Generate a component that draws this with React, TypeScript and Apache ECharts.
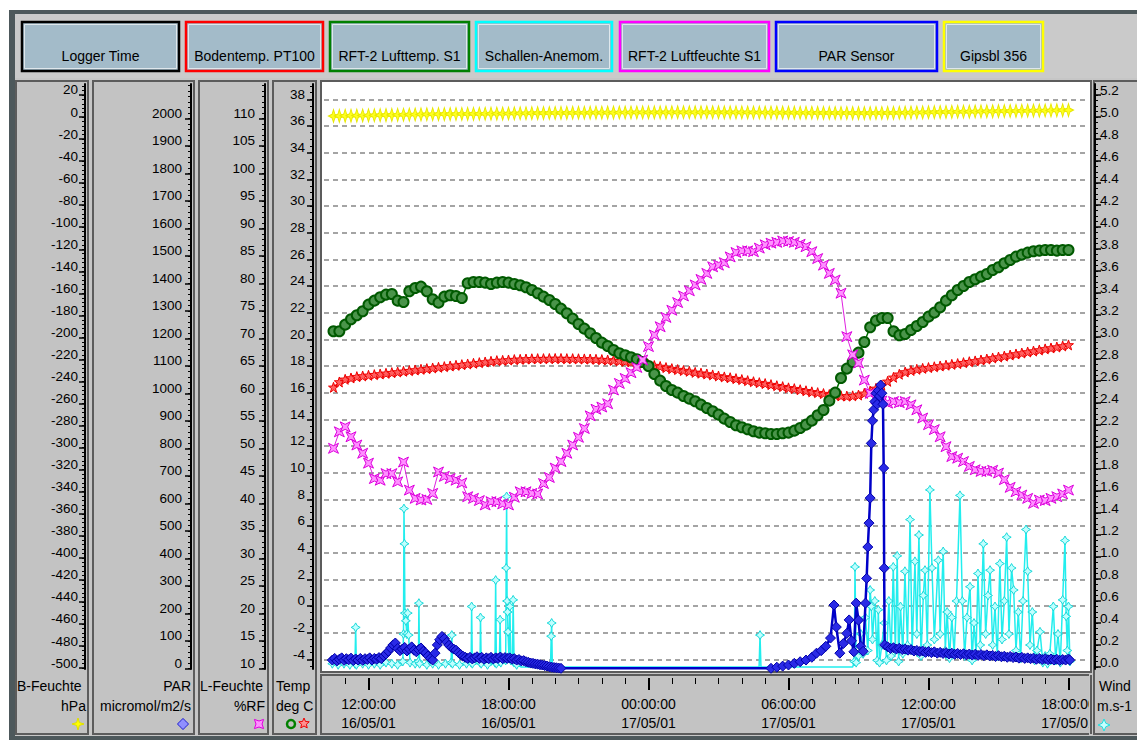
import React, { useEffect, useRef } from 'react';
import * as echarts from 'echarts';

// ---------------- DATA ----------------
// smooth channels logged every 15 min, first sample 10:30 on 16/05/01 (hours since 16/05/01 00:00)
const SAMPLE_START = 10.5;
const SAMPLE_STEP = 0.25;

// Bodentemp. PT100 (deg C)
const bodenTemp = [
  16.4, 16.8,
  17.0, 17.1, 17.2, 17.25,
  17.3, 17.35, 17.4, 17.45,
  17.5, 17.55, 17.6, 17.65,
  17.7, 17.75, 17.8, 17.85,
  17.9, 17.95, 18.0, 18.05,
  18.1, 18.15, 18.2, 18.25,
  18.3, 18.35, 18.4, 18.42,
  18.45, 18.48, 18.5, 18.52,
  18.54, 18.55, 18.55, 18.56,
  18.56, 18.56, 18.55, 18.55,
  18.54, 18.53, 18.52, 18.5,
  18.48, 18.45, 18.42, 18.38,
  18.35, 18.3, 18.25, 18.18,
  18.1, 18.03, 17.96, 17.88,
  17.8, 17.73, 17.66, 17.6,
  17.52, 17.46, 17.4, 17.33,
  17.25, 17.18, 17.12, 17.05,
  16.98, 16.9, 16.82, 16.75,
  16.68, 16.6, 16.52, 16.45,
  16.36, 16.3, 16.22, 16.14,
  16.06, 16.0, 15.93, 15.86,
  15.8, 15.76, 15.74, 15.76,
  15.82, 15.95, 16.12, 16.32,
  16.55, 16.85, 17.15, 17.38,
  17.55, 17.66, 17.75, 17.82,
  17.88, 17.94, 18.0, 18.06,
  18.12, 18.18, 18.25, 18.32,
  18.38, 18.45, 18.52, 18.6,
  18.67, 18.74, 18.82, 18.9,
  18.97, 19.05, 19.12, 19.2,
  19.28, 19.35, 19.42, 19.5,
  19.58,
];

// RFT-2 Lufttemp. S1 (deg C)
const luftTemp = [
  20.6, 20.6,
  21.1, 21.5, 21.8, 22.1,
  22.6, 22.9, 23.15, 23.35,
  23.4, 22.9, 22.8, 23.6,
  23.85, 23.95, 23.6, 23.0,
  22.75, 23.2, 23.3, 23.25,
  23.1, 24.2, 24.3, 24.3,
  24.25, 24.15, 24.25, 24.3,
  24.25, 24.15, 24.05, 23.9,
  23.7, 23.45, 23.2, 22.95,
  22.65, 22.3, 21.95, 21.55,
  21.15, 20.8, 20.45, 20.1,
  19.75, 19.5, 19.2, 18.95,
  18.8, 18.65, 18.5, 18.3,
  18.0, 17.4, 16.9, 16.5,
  16.2, 16.0, 15.75, 15.55,
  15.35, 15.1, 14.85, 14.6,
  14.35, 14.05, 13.8, 13.55,
  13.4, 13.25, 13.1, 13.0,
  12.95, 12.9, 12.9, 12.95,
  13.0, 13.15, 13.35, 13.6,
  13.9, 14.3, 14.7, 15.4,
  16.0, 17.1, 17.8, 18.3,
  19.0, 19.8, 20.9, 21.4,
  21.6, 21.6, 20.6, 20.3,
  20.4, 20.7, 21.0, 21.3,
  21.7, 22.0, 22.4, 22.9,
  23.3, 23.7, 24.0, 24.3,
  24.5, 24.7, 24.9, 25.2,
  25.4, 25.7, 25.95, 26.2,
  26.35, 26.5, 26.6, 26.65,
  26.7, 26.7, 26.65, 26.7,
  26.7,
];

// RFT-2 Luftfeuchte S1 (%RF)
const luftFeuchte = [
  50.0, 53.0, 53.9, 52.1, 50.6, 49.1, 47.3, 44.5, 44.2, 45.4,
  45.4, 43.9, 47.5, 42.4, 40.9, 40.6, 40.7, 41.8, 45.7, 44.9,
  44.5, 44.2, 43.7, 41.2, 40.9, 40.5, 39.7, 40.3, 40.3, 39.9,
  39.7, 41.1, 42.1, 42.1, 41.8, 41.7, 43.6, 44.7, 46.4, 47.6,
  49.1, 50.6, 52.0, 53.6, 55.9, 57.1, 57.5, 58.1, 60.6, 61.8,
  62.7, 63.75, 64.7, 66.05, 68.5, 70.6, 72.1, 73.8, 75.1, 76.5,
  77.7, 78.65, 79.7, 80.7, 81.8, 83.0, 83.3, 83.75, 84.8, 85.6,
  85.9, 85.9, 85.75, 86.4, 87.0, 87.3, 87.45, 87.7, 87.6, 87.45,
  87.1, 86.65, 85.75, 84.5, 83.3, 81.8, 80.6, 78.2, 70.3, 67.0,
  65.5, 62.4, 60.0, 59.0, 58.6, 58.2, 58.5, 58.3, 58.5, 57.9,
  57.0, 55.5, 54.3, 53.4, 52.1, 50.3, 48.5, 48.2, 47.6, 46.7,
  46.1, 45.8, 45.8, 46.0, 45.5, 44.3, 42.9, 42.1, 41.5, 40.9,
  40.0, 40.6, 40.5, 40.9, 41.2, 41.7, 42.4,
];

// Gipsbl 356 (B-Feuchte, hPa)
const gipsbl = [
  0.9, 1.0,
  1.1, 1.2, 1.3, 1.4,
  1.5, 1.6, 1.7, 1.8,
  1.9, 2.0, 2.1, 2.2,
  2.3, 2.4, 2.5, 2.55,
  2.6, 2.65, 2.7, 2.75,
  2.8, 2.85, 2.9, 2.95,
  3.0, 3.05, 3.1, 3.15,
  3.2, 3.3, 3.4, 3.45,
  3.5, 3.55, 3.6, 3.65,
  3.7, 3.75, 3.8, 3.85,
  3.9, 3.9, 3.95, 4.0,
  4.0, 4.05, 4.05, 4.1,
  4.1, 4.15, 4.15, 4.2,
  4.2, 4.2, 4.25, 4.25,
  4.3, 4.3, 4.3, 4.3,
  4.3, 4.3, 4.3, 4.3,
  4.3, 4.25, 4.25, 4.2,
  4.2, 4.15, 4.15, 4.1,
  4.1, 4.05, 4.05, 4.0,
  4.0, 3.95, 3.9, 3.9,
  3.85, 3.8, 3.8, 3.75,
  3.7, 3.7, 3.65, 3.6,
  3.6, 3.6, 3.6, 3.65,
  3.7, 3.75, 3.8, 3.9,
  4.0, 4.05, 4.1, 4.2,
  4.3, 4.4, 4.5, 4.6,
  4.7, 4.8, 4.85, 4.9,
  5.0, 5.1, 5.15, 5.2,
  5.3, 5.4, 5.45, 5.5,
  5.6, 5.7, 5.8, 5.85,
  5.9, 6.0, 6.1, 6.2,
  6.3,
];

// PAR Sensor [hour, micromol/m2/s]
const parPoints = [
  [10.45, 30], [10.55, 36], [10.65, 27], [10.75, 33], [10.85, 38], [10.95, 29], [11.05, 35], [11.15, 31],
  [11.25, 37], [11.35, 28], [11.45, 34], [11.55, 30], [11.65, 36], [11.75, 29], [11.85, 35], [11.95, 32],
  [12.05, 38], [12.15, 30], [12.25, 36], [12.35, 33], [12.45, 39], [12.55, 35], [12.65, 45], [12.75, 52],
  [12.85, 62], [12.95, 74], [13.05, 85], [13.15, 92], [13.25, 72], [13.35, 64], [13.45, 70], [13.55, 76],
  [13.65, 63], [13.75, 70], [13.85, 78], [13.95, 66], [14.05, 60], [14.15, 68], [14.25, 74], [14.35, 62],
  [14.45, 56], [14.55, 45], [14.65, 36], [14.75, 30], [14.85, 55], [14.95, 85], [15.05, 104], [15.15, 116],
  [15.25, 108], [15.35, 95], [15.45, 84], [15.55, 76], [15.65, 70], [15.75, 66], [15.85, 58], [15.95, 50],
  [16.05, 44], [16.15, 40], [16.25, 36], [16.35, 40], [16.45, 34], [16.55, 38], [16.65, 42], [16.75, 36],
  [16.85, 40], [16.95, 33], [17.05, 38], [17.15, 35], [17.25, 40], [17.35, 34], [17.45, 38], [17.55, 36],
  [17.65, 41], [17.75, 35], [17.85, 39], [17.95, 36], [18.05, 38], [18.15, 33], [18.25, 35], [18.35, 30],
  [18.45, 32], [18.55, 27], [18.65, 28], [18.75, 24], [18.85, 22], [18.95, 19], [19.05, 18], [19.15, 16],
  [19.25, 15], [19.35, 13], [19.45, 12], [19.55, 10], [19.65, 8], [19.75, 6], [19.85, 4], [19.95, 3],
  [20.05, 2], [20.15, 1], [20.25, 0],
  [29.25, 0], [29.5, 4], [29.75, 8], [30.0, 12], [30.25, 18], [30.5, 24], [30.75, 30], [31.0, 40],
  [31.2, 55], [31.4, 64], [31.6, 80], [31.8, 110], [31.95, 230], [32.05, 150], [32.2, 55], [32.35, 90],
  [32.5, 127], [32.6, 176], [32.7, 100], [32.8, 60], [32.9, 237], [33.0, 175], [33.1, 80], [33.2, 62],
  [33.3, 237], [33.35, 327], [33.4, 441], [33.45, 528], [33.5, 619], [33.55, 818], [33.6, 900], [33.65, 940],
  [33.7, 970], [33.75, 1000], [33.8, 960], [33.85, 1010], [33.9, 990], [33.95, 1030], [34.0, 1000], [34.05, 960],
  [34.08, 728], [34.1, 364], [34.12, 85], [34.25, 78], [34.375, 72], [34.5, 75], [34.625, 70], [34.75, 73],
  [34.875, 68], [35.0, 70], [35.125, 66], [35.25, 68], [35.375, 63], [35.5, 65], [35.625, 61], [35.75, 63],
  [35.875, 58], [36.0, 61], [36.125, 57], [36.25, 60], [36.375, 55], [36.5, 58], [36.625, 54], [36.75, 57],
  [36.875, 52], [37.0, 55], [37.125, 51], [37.25, 54], [37.375, 50], [37.5, 53], [37.625, 49], [37.75, 52],
  [37.875, 48], [38.0, 51], [38.125, 47], [38.25, 50], [38.375, 46], [38.5, 49], [38.625, 45], [38.75, 47],
  [38.875, 43], [39.0, 46], [39.125, 42], [39.25, 44], [39.375, 40], [39.5, 43], [39.625, 39], [39.75, 41],
  [39.875, 37], [40.0, 40], [40.125, 36], [40.25, 38], [40.375, 35], [40.5, 37], [40.625, 33], [40.75, 36],
  [40.875, 32], [41.0, 35], [41.125, 31], [41.25, 34], [41.375, 30], [41.5, 33], [41.625, 29], [41.75, 32],
  [41.875, 30], [42.0, 34], [42.05, 30],
];

// Schallen-Anemom. [hour, m/s]
const windPoints = [
  [10.45, 0.03], [10.7, 0.02], [10.95, 0.03], [11.2, 0.02], [11.42, 0.03], [11.45, 0.36], [11.48, 0.02], [11.75, 0.03],
  [12.0, 0.02], [12.25, 0.03], [12.5, 0.02], [12.75, 0.04], [13.0, 0.03], [13.25, 0.02], [13.47, 0.05], [13.5, 0.3],
  [13.52, 1.44], [13.54, 1.12], [13.56, 0.49], [13.6, 0.42], [13.64, 0.3], [13.68, 0.49], [13.72, 0.29], [13.78, 0.04],
  [14.0, 0.03], [14.14, 0.05], [14.16, 0.58], [14.19, 0.03], [14.5, 0.02], [14.75, 0.03], [15.0, 0.02], [15.3, 0.03],
  [15.54, 0.04], [15.57, 0.29], [15.6, 0.03], [15.9, 0.02], [16.2, 0.03], [16.4, 0.04], [16.42, 0.55], [16.45, 0.03],
  [16.78, 0.04], [16.8, 0.45], [16.83, 0.03], [17.1, 0.02], [17.42, 0.04], [17.45, 0.79], [17.48, 0.03], [17.61, 0.05],
  [17.64, 0.43], [17.67, 0.04], [17.88, 0.06], [17.9, 0.9], [17.92, 1.55], [17.94, 0.6], [17.96, 0.5], [17.98, 0.32],
  [18.02, 0.08], [18.06, 0.55], [18.1, 0.06], [18.17, 0.08], [18.2, 0.61], [18.24, 0.04], [18.35, 0.02], [18.55, 0],
  [19.8, 0], [19.83, 0.28], [19.85, 0.4], [19.88, 0], [28.74, 0], [28.78, 0.29], [28.82, 0], [32.75, 0],
  [32.82, 0.05], [32.85, 0.91], [32.9, 0.04], [33.0, 0.1], [33.1, 0.3], [33.2, 0.12], [33.3, 0.45], [33.4, 0.15],
  [33.5, 0.7], [33.55, 0.55], [33.6, 0.25], [33.7, 0.6], [33.8, 0.06], [33.85, 0.52], [33.9, 0.04], [34.0, 0.2],
  [34.1, 0.4], [34.2, 0.06], [34.3, 0.6], [34.4, 0.1], [34.49, 0.91], [34.58, 0.15], [34.66, 1.01], [34.72, 0.05],
  [34.8, 0.55], [34.9, 0.12], [34.99, 0.87], [35.1, 0.2], [35.21, 1.34], [35.3, 0.15], [35.42, 0.96], [35.5, 0.3],
  [35.59, 1.2], [35.68, 0.1], [35.78, 0.65], [35.85, 0.88], [35.95, 0.2], [36.06, 1.61], [36.15, 0.9], [36.25, 0.25],
  [36.42, 0.97], [36.5, 0.3], [36.63, 1.05], [36.72, 0.15], [36.8, 0.5], [36.9, 0.08], [37.0, 0.45], [37.1, 0.12],
  [37.2, 0.6], [37.35, 1.56], [37.45, 0.6], [37.55, 0.1], [37.65, 0.45], [37.78, 0.73], [37.87, 0.06], [37.95, 0.4],
  [38.04, 0.12], [38.12, 0.85], [38.22, 0.2], [38.35, 1.12], [38.45, 0.3], [38.55, 0.65], [38.64, 0.88], [38.75, 0.2],
  [38.85, 0.55], [38.95, 0.1], [39.06, 0.94], [39.15, 0.25], [39.25, 0.6], [39.35, 1.18], [39.45, 0.3], [39.56, 0.9],
  [39.65, 0.7], [39.75, 0.15], [39.85, 0.5], [39.95, 0.08], [40.05, 0.6], [40.18, 1.25], [40.25, 0.87], [40.35, 0.2],
  [40.45, 0.5], [40.55, 0.06], [40.65, 0.15], [40.78, 0.32], [40.9, 0.04], [41.0, 0.1], [41.1, 0.03], [41.2, 0.12],
  [41.35, 0.55], [41.45, 0.06], [41.55, 0.3], [41.65, 0.04], [41.75, 0.61], [41.85, 1.15], [41.9, 0.46], [41.95, 0.15],
  [42.0, 0.55], [42.06, 0.05],
];

// ---------------- TICKS / LABELS ----------------
const range = (a: number, b: number, s: number) => {
  const out: number[] = [];
  const n = Math.round((b - a) / s);
  for (let i = 0; i <= n; i++) out.push(+(a + i * s).toFixed(4));
  return out;
};
const TIME_TICKS = [12, 18, 24, 30, 36, 42];
const TIME_MINOR = range(11, 42, 1);
const TEMP_TICKS = range(-4, 38, 2);
const TEMP_MINOR = range(-4.5, 39, 0.5);
const LF_TICKS = range(10, 110, 5);
const LF_MINOR = range(10, 116, 1);
const PAR_TICKS = range(0, 2000, 100);
const PAR_MINOR = range(0, 2120, 20);
const BF_TICKS = range(-500, 20, 20);
const BF_MINOR = range(-500, 28, 4);
const WIND_TICKS = range(0, 5.2, 0.2);
const WIND_MINOR = range(0, 5.25, 0.05);

const BUTTONS = [
  { label: 'Logger Time', x: 22, w: 157, color: '#000000' },
  { label: 'Bodentemp. PT100', x: 186, w: 137, color: '#ff0000' },
  { label: 'RFT-2 Lufttemp. S1', x: 330, w: 139, color: '#008000' },
  { label: 'Schallen-Anemom.', x: 476, w: 136, color: '#00ffff' },
  { label: 'RFT-2 Luftfeuchte S1', x: 620, w: 149, color: '#ff00ff' },
  { label: 'PAR Sensor', x: 776, w: 161, color: '#0000ff' },
  { label: 'Gipsbl 356', x: 944, w: 99, color: '#ffff00' },
];

// ---------------- LAYOUT ----------------
const FONT = '"Liberation Sans", Arial, Helvetica, sans-serif';
const PLOT = { left: 324, top: 84, width: 765, height: 585 };
const X_MIN = 10.0929;
const X_MAX = 42.879;
const TEMP_RANGE = [-4.727, 39.148];
const LF_RANGE = [9.873, 116.236];
const PAR_RANGE = [-2.5, 2124.7];
const BF_RANGE = [-500.87, 29.98];
const WIND_RANGE = [-0.01818, 5.3];

const SYM_STAR5 = 'path://M0,-10L2.35,-3.24L9.51,-3.09L3.8,1.24L5.88,8.09L0,4L-5.88,8.09L-3.8,1.24L-9.51,-3.09L-2.35,-3.24Z';
const SYM_STAR4 = 'path://M0,-10L2.8,-2.8L10,0L2.8,2.8L0,10L-2.8,2.8L-10,0L-2.8,-2.8Z';
const SYM_STAR4W = 'path://M0,-10L3.6,-3.6L10,0L3.6,3.6L0,10L-3.6,3.6L-10,0L-3.6,-3.6Z';
const SYM_SQSTAR = 'path://M-10,-10L0,-5L10,-10L5,0L10,10L0,5L-10,10L-5,0Z';

const sampled = (vals: number[]) => vals.map((v, i) => [SAMPLE_START + i * SAMPLE_STEP, v]);

const fmtTime = (v: number) => {
  const day = 16 + Math.floor(v / 24);
  const hh = Math.round(v % 24);
  return `${String(hh).padStart(2, '0')}:00:00\n${day}/05/01`;
};
const fmtInt = (v: number) => String(Math.round(v));

const labelStyle = (margin: number, extra: any = {}) => ({
  show: true,
  margin,
  color: '#000',
  fontSize: 13.5,
  fontFamily: FONT,
  verticalAlign: 'bottom',
  lineHeight: 10,
  ...extra,
});

const majorAxis = (position: string, offset: number, r: number[], ticks: number[], margin: number, formatter: any, z = 0) => ({
  type: 'value',
  gridIndex: 0,
  position,
  offset,
  min: r[0],
  max: r[1],
  z,
  axisLine: { show: true, onZero: false, lineStyle: { color: '#000', width: 2 } },
  axisTick: { show: true, customValues: ticks, length: 6, lineStyle: { color: '#000', width: 1.5 } },
  axisLabel: labelStyle(margin, { customValues: ticks, formatter }),
  splitLine: { show: false },
});

const minorAxis = (position: string, offset: number, r: number[], ticks: number[], z = 0) => ({
  type: 'value',
  gridIndex: 0,
  position,
  offset,
  min: r[0],
  max: r[1],
  z,
  axisLine: { show: false },
  axisTick: { show: true, customValues: ticks, length: 3, lineStyle: { color: '#000', width: 1 } },
  axisLabel: { show: false },
  splitLine: { show: false },
});

const rect = (x: number, y: number, w: number, h: number, fill: string, stroke: string | null, lw: number, z: number) => ({
  type: 'rect',
  shape: { x, y, width: w, height: h },
  style: { fill, stroke: stroke || undefined, lineWidth: lw },
  z,
  silent: true,
});

const txt = (text: string, x: number, y: number, align = 'left', z = 1, size = 14) => ({
  type: 'text',
  x,
  y,
  z,
  silent: true,
  style: { text, fill: '#000', fontSize: size, fontFamily: FONT, align, verticalAlign: 'middle' },
});

const starPts = (cx: number, cy: number, ro: number, ri: number, n: number, rot = -Math.PI / 2) => {
  const pts: number[][] = [];
  for (let k = 0; k < 2 * n; k++) {
    const r = k % 2 ? ri : ro;
    const a = rot + (k * Math.PI) / n;
    pts.push([cx + r * Math.cos(a), cy + r * Math.sin(a)]);
  }
  return pts;
};

const icon = (points: number[][], fill: string, stroke: string, z = 1) => ({
  type: 'polygon',
  shape: { points },
  style: { fill, stroke, lineWidth: 1 },
  z,
  silent: true,
});

function buildOption(): any {
  const PANEL = '#c3c3c3';
  const EDGE = '#5c5c5c';
  const graphic: any[] = [
    rect(0, 0, 1137, 740, '#ffffff', null, 0, -30),
    rect(9, 10, 1128, 730, '#4d585b', null, 0, -29),
    rect(15, 14, 1122, 722, '#c6c6c6', null, 0, -28),
    rect(15, 14, 1122, 64, '#cacaca', null, 0, -27),
  ];
  BUTTONS.forEach((b) => {
    graphic.push(rect(b.x, 22, b.w, 49, '#a3bbc9', b.color, 2.5, -26));
    graphic.push(rect(b.x + 2.5, 24.5, b.w - 5, 44, 'rgba(0,0,0,0)', '#dfe7ec', 1, -25));
    graphic.push(txt(b.label, b.x + b.w / 2, 56, 'center', 1, 14));
  });
  // axis panels, plot frame, time panel
  graphic.push(rect(16, 81, 72, 653, PANEL, EDGE, 2, -24));
  graphic.push(rect(93, 81, 101, 653, PANEL, EDGE, 2, -24));
  graphic.push(rect(199, 81, 69, 653, PANEL, EDGE, 2, -24));
  graphic.push(rect(273, 81, 43, 653, PANEL, EDGE, 2, -24));
  graphic.push(rect(321, 81, 770, 591, '#ffffff', EDGE, 2, -24));
  graphic.push(rect(321, 675, 770, 59, PANEL, EDGE, 2, -24));
  // right side overlay (clips the last time label) and wind panel
  graphic.push(rect(1089, 674, 48, 62, '#c6c6c6', null, 0, 5));
  graphic.push({ type: 'line', shape: { x1: 1091, y1: 675, x2: 1091, y2: 734 }, style: { stroke: EDGE, lineWidth: 2 }, z: 6, silent: true });
  graphic.push(rect(1094, 81, 50, 653, PANEL, EDGE, 2, 6));
  // panel captions
  graphic.push(txt('B-Feuchte', 17, 686, 'left'));
  graphic.push(txt('hPa', 86, 706, 'right'));
  graphic.push(txt('PAR', 191, 686, 'right'));
  graphic.push(txt('micromol/m2/s', 191, 706, 'right'));
  graphic.push(txt('L-Feuchte', 200, 686, 'left'));
  graphic.push(txt('%RF', 265, 706, 'right'));
  graphic.push(txt('Temp', 276, 686, 'left'));
  graphic.push(txt('deg C', 276, 706, 'left'));
  graphic.push(txt('Wind', 1099, 686, 'left', 7));
  graphic.push(txt('m.s-1', 1097, 706, 'left', 7));
  // legend icons
  graphic.push(icon(starPts(78, 724, 6, 2, 4), '#ffff00', '#e0e000'));
  graphic.push(icon(starPts(183, 724, 5.5, 4, 4), '#9090ff', '#2020d0'));
  graphic.push(icon(starPts(259, 724, 6.5, 3, 4, -Math.PI / 4), '#ff90ff', '#e000e0'));
  graphic.push({ type: 'circle', shape: { cx: 291, cy: 724, r: 4 }, style: { fill: '#c3c3c3', stroke: '#008000', lineWidth: 2.5 }, z: 1, silent: true });
  graphic.push(icon(starPts(304, 723.5, 5.5, 2.5, 5), '#ff9090', '#ee0000'));
  graphic.push(icon(starPts(1104, 725, 6, 2.5, 4), '#c8ffff', '#20e0e0', 7));

  const xBase = { type: 'value', min: X_MIN, max: X_MAX };

  return {
    animation: false,
    textStyle: { fontFamily: FONT },
    grid: [
      { left: PLOT.left, top: PLOT.top, width: PLOT.width, height: PLOT.height },
      { left: PLOT.left, top: 677, width: PLOT.width, height: 1 },
      { left: PLOT.left, top: 99.3, width: PLOT.width, height: 560 },
    ],
    xAxis: [
      { ...xBase, gridIndex: 0, show: false },
      {
        ...xBase,
        gridIndex: 1,
        position: 'bottom',
        axisLine: { show: false },
        axisTick: { show: true, customValues: TIME_TICKS, length: 12, lineStyle: { color: '#000', width: 2 } },
        axisLabel: { show: true, customValues: TIME_TICKS, formatter: fmtTime, margin: 16, lineHeight: 19, fontSize: 14, color: '#000', fontFamily: FONT },
        splitLine: { show: false },
      },
      {
        ...xBase,
        gridIndex: 1,
        position: 'bottom',
        axisLine: { show: false },
        axisTick: { show: true, customValues: TIME_MINOR, length: 6, lineStyle: { color: '#000', width: 1 } },
        axisLabel: { show: false },
        splitLine: { show: false },
      },
      { ...xBase, gridIndex: 2, show: false },
    ],
    yAxis: [
      majorAxis('left', 11, TEMP_RANGE, TEMP_TICKS, 8, fmtInt),
      minorAxis('left', 11, TEMP_RANGE, TEMP_MINOR),
      majorAxis('left', 59, LF_RANGE, LF_TICKS, 10, fmtInt),
      minorAxis('left', 59, LF_RANGE, LF_MINOR),
      majorAxis('left', 133, PAR_RANGE, PAR_TICKS, 9, fmtInt),
      minorAxis('left', 133, PAR_RANGE, PAR_MINOR),
      majorAxis('left', 239, BF_RANGE, BF_TICKS, 7, fmtInt),
      minorAxis('left', 239, BF_RANGE, BF_MINOR),
      majorAxis('right', 6, WIND_RANGE, WIND_TICKS, 5, (v: number) => v.toFixed(1), 10),
      minorAxis('right', 6, WIND_RANGE, WIND_MINOR, 10),
      {
        type: 'value',
        gridIndex: 2,
        min: -4,
        max: 38,
        interval: 2,
        axisLine: { show: false },
        axisTick: { show: false },
        axisLabel: { show: false },
        splitLine: { show: true, lineStyle: { color: '#878787', width: 1.5, type: [5, 4] } },
      },
      { type: 'value', gridIndex: 1, show: false, min: 0, max: 1 },
    ],
    series: [
      {
        name: 'Bodentemp. PT100', type: 'line', xAxisIndex: 0, yAxisIndex: 0, z: 3, silent: true,
        data: sampled(bodenTemp), symbol: SYM_STAR5, symbolSize: 10,
        lineStyle: { color: '#ff0000', width: 1.5 },
        itemStyle: { color: '#ff6060', borderColor: '#ee0000', borderWidth: 1 },
      },
      {
        name: 'RFT-2 Lufttemp. S1', type: 'line', xAxisIndex: 0, yAxisIndex: 0, z: 4, silent: true,
        data: sampled(luftTemp), symbol: 'circle', symbolSize: 10,
        lineStyle: { color: '#007000', width: 1.5 },
        itemStyle: { color: '#4a944a', borderColor: '#005a00', borderWidth: 2 },
      },
      {
        name: 'Schallen-Anemom.', type: 'line', xAxisIndex: 0, yAxisIndex: 8, z: 5, silent: true,
        data: windPoints, symbol: SYM_STAR4W, symbolSize: (v: any) => (v[1] > 0 ? 9 : 0),
        lineStyle: { color: '#22eeee', width: 1.5 },
        itemStyle: { color: '#c0ffff', borderColor: '#1adada', borderWidth: 1 },
      },
      {
        name: 'RFT-2 Luftfeuchte S1', type: 'line', xAxisIndex: 0, yAxisIndex: 2, z: 6, silent: true,
        data: sampled(luftFeuchte), symbol: SYM_SQSTAR, symbolSize: 10,
        lineStyle: { color: '#e020e0', width: 1 },
        itemStyle: { color: '#ff90ff', borderColor: '#dd00dd', borderWidth: 1 },
      },
      {
        name: 'PAR Sensor', type: 'line', xAxisIndex: 0, yAxisIndex: 4, z: 7, silent: true,
        data: parPoints, symbol: 'diamond', symbolSize: 10,
        lineStyle: { color: '#0000c8', width: 2.5 },
        itemStyle: { color: '#2a2ae6', borderColor: '#0000a8', borderWidth: 1 },
      },
      {
        name: 'Gipsbl 356', type: 'line', xAxisIndex: 0, yAxisIndex: 6, z: 8, silent: true,
        data: sampled(gipsbl), symbol: SYM_STAR4, symbolSize: [10, 13],
        lineStyle: { color: '#ffff00', width: 1 },
        itemStyle: { color: '#ffff20', borderColor: '#e8e800', borderWidth: 1 },
      },
    ],
    graphic,
  };
}

export default function App() {
  const ref = useRef<HTMLDivElement>(null);
  useEffect(() => {
    document.body.style.margin = '0';
    const chart = echarts.init(ref.current as HTMLDivElement, null, { renderer: 'svg' });
    chart.setOption(buildOption());
    return () => chart.dispose();
  }, []);
  return <div ref={ref} style={{ position: 'absolute', left: 0, top: 0, width: 1137, height: 740 }} />;
}
